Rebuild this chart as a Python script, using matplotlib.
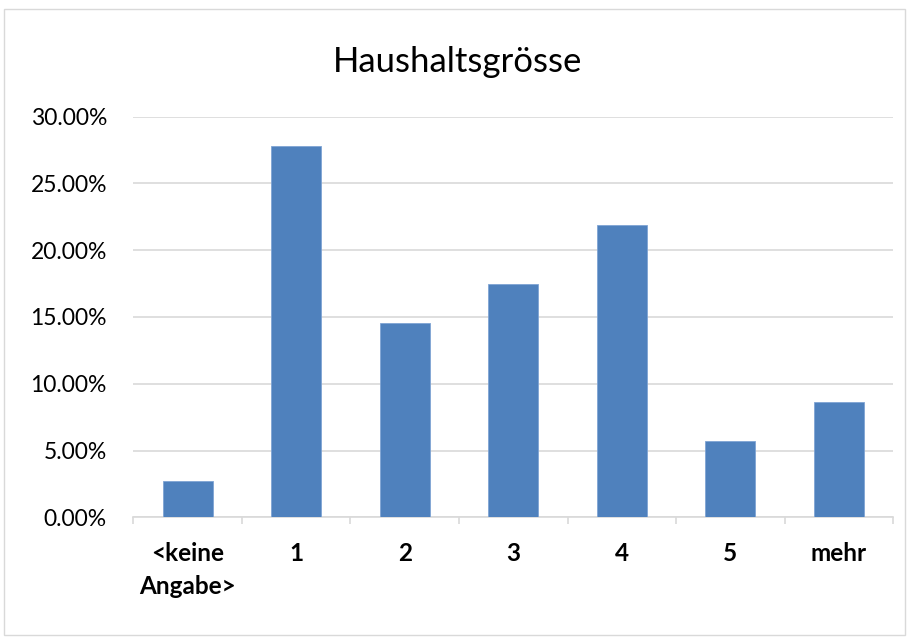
import matplotlib
matplotlib.use("Agg")
import matplotlib.pyplot as plt
from matplotlib.ticker import FuncFormatter, FixedLocator
from matplotlib.patches import Rectangle

categories = ["<keine\nAngabe>", "1", "2", "3", "4", "5", "mehr"]
values = [0.0272, 0.278, 0.1455, 0.1747, 0.2192, 0.057, 0.0863]
y_ticks = [0.0, 0.05, 0.10, 0.15, 0.20, 0.25, 0.30]

plt.rcParams['font.family'] = ['Lato', 'DejaVu Sans']

fig = plt.figure(figsize=(9.15, 6.41), dpi=100)
fig.patches.append(Rectangle((4/915, 6/641), 901/915, 626/641, transform=fig.transFigure,
                             fill=False, edgecolor="#d9d9d9", linewidth=1.0))
ax = fig.add_axes([133.3/915, 1-517.3/641, 760/915, 400.6/641])

x = list(range(len(categories)))
ax.bar(x, values, width=0.46, color="#4f81bd", edgecolor="#7fa4d4", linewidth=0.6, zorder=3)

ax.set_xlim(-0.5, len(categories)-0.5)
ax.set_ylim(0, 0.30)
ax.set_yticks(y_ticks)
ax.yaxis.set_major_formatter(FuncFormatter(lambda v, p: f"{v*100:.2f}%"))
ax.grid(axis="y", color="#d9d9d9", linewidth=1.2, zorder=0)
ax.set_axisbelow(True)

ax.set_xticks(x)
ax.set_xticklabels(categories, fontweight="bold", fontsize=17.5, linespacing=1.5, va="top")
ax.xaxis.set_minor_locator(FixedLocator([i - 0.5 for i in range(len(categories)+1)]))
ax.tick_params(axis="x", which="major", length=0, pad=18)
ax.tick_params(axis="x", which="minor", length=5, color="#d9d9d9", width=1.2)
ax.tick_params(axis="y", length=0, pad=19, labelsize=16.5)

for s in ["top", "right", "left"]:
    ax.spines[s].set_visible(False)
ax.spines["bottom"].set_color("#d9d9d9")
ax.spines["bottom"].set_linewidth(1.2)

fig.text(458/915, 1-62/641, "Haushaltsgrösse", ha="center", va="center", fontsize=25)

fig.savefig("out.png", dpi=100)
